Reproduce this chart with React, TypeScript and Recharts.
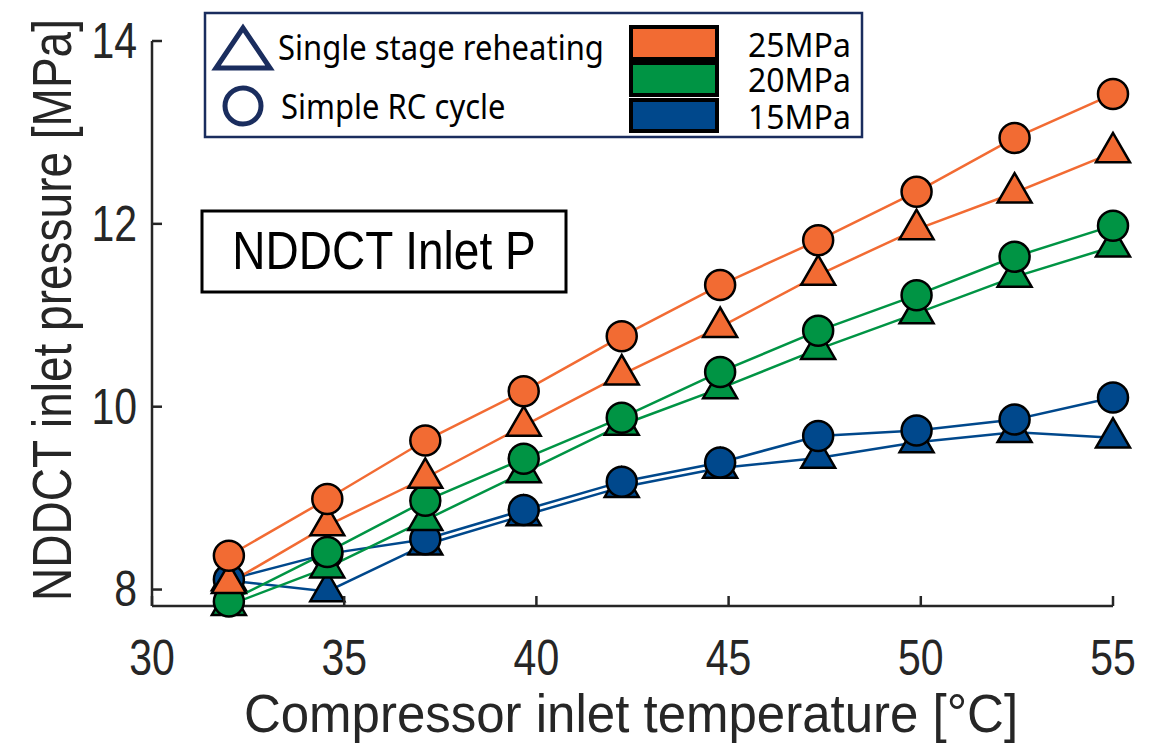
import React from "react";
import { LineChart, Line, XAxis, YAxis } from "recharts";

// compressor inlet temperature [°C]
const temps = [32, 34.56, 37.11, 39.67, 42.22, 44.78, 47.33, 49.89, 52.44, 55];
// NDDCT inlet pressure [MPa]; rc = simple RC cycle, rh = single stage reheating
const rc25 = [8.37, 8.99, 9.63, 10.17, 10.77, 11.33, 11.82, 12.35, 12.94, 13.42];
const rh25 = [8.07, 8.7, 9.22, 9.79, 10.35, 10.87, 11.44, 11.94, 12.34, 12.78];
const rc20 = [7.87, 8.41, 8.97, 9.43, 9.88, 10.38, 10.83, 11.22, 11.64, 11.98];
const rh20 = [7.83, 8.24, 8.76, 9.28, 9.8, 10.2, 10.63, 11.02, 11.42, 11.75];
const rc15 = [8.11, 8.39, 8.55, 8.87, 9.18, 9.39, 9.68, 9.74, 9.86, 10.1];
const rh15 = [8.1, 7.98, 8.49, 8.81, 9.12, 9.33, 9.44, 9.61, 9.72, 9.66];

const xTicks = [30, 35, 40, 45, 50, 55];
const yTicks = [8, 10, 12, 14];

const ORANGE = "#f26b33";
const GREEN = "#009444";
const BLUE = "#00488c";
const AXIS = "#262626";
const NAVY = "#1a2d5e";
const ARIAL = "'Liberation Sans', Arial, sans-serif";
const LEGEND_FONT = "'Noto Sans', 'Open Sans', sans-serif";

const data = temps.map((t, i) => ({
  t,
  rc25: rc25[i],
  rh25: rh25[i],
  rc20: rc20[i],
  rh20: rh20[i],
  rc15: rc15[i],
  rh15: rh15[i],
}));

function SText({ x, y, k = 1.15, rotate = 0, children, ...rest }: any) {
  return (
    <text
      transform={`translate(${x},${y}) rotate(${rotate}) scale(1,${k})`}
      x={0}
      y={0}
      dominantBaseline="central"
      {...rest}
    >
      {children}
    </text>
  );
}

const circleDot = (color: string) => (p: any) => {
  const { cx, cy, index } = p;
  if (cx == null || cy == null) return <g key={`c${index}`} />;
  return <circle key={`c${index}`} cx={cx} cy={cy} r={15} fill={color} stroke="#000" strokeWidth={2.5} />;
};

const triDot = (color: string) => (p: any) => {
  const { cx, cy, index } = p;
  if (cx == null || cy == null) return <g key={`t${index}`} />;
  const s = 34;
  const h = (s * Math.sqrt(3)) / 2;
  const pts = `${cx},${cy - (2 * h) / 3} ${cx - s / 2},${cy + h / 3} ${cx + s / 2},${cy + h / 3}`;
  return <polygon key={`t${index}`} points={pts} fill={color} stroke="#000" strokeWidth={2.5} />;
};

const XTick = (p: any) => {
  const { x, y, payload } = p;
  return (
    <g>
      <line x1={x} y1={y} x2={x} y2={y - 10} stroke={AXIS} strokeWidth={2.5} />
      <SText x={x} y={y + 52} textAnchor="middle" fontFamily={ARIAL} fontSize={41} fill={AXIS} k={1.2}>
        {payload.value}
      </SText>
    </g>
  );
};

const YTick = (p: any) => {
  const { x, y, payload } = p;
  return (
    <g>
      <line x1={x} y1={y} x2={x + 10} y2={y} stroke={AXIS} strokeWidth={2.5} />
      <SText x={x - 15} y={y} textAnchor="end" fontFamily={ARIAL} fontSize={41} fill={AXIS} k={1.2}>
        {payload.value}
      </SText>
    </g>
  );
};

function series(key: string, color: string, tri: boolean) {
  return (
    <Line
      key={key}
      dataKey={key}
      type="linear"
      stroke={color}
      strokeWidth={2.5}
      dot={tri ? triDot(color) : circleDot(color)}
      activeDot={false}
      isAnimationActive={false}
    />
  );
}

export default function App() {
  return (
    <div style={{ position: "relative", width: 1150, height: 738, background: "#fff" }}>
      <LineChart width={1150} height={730} data={data} margin={{ top: 33, right: 45, bottom: 72, left: 44 }}>
        <XAxis
          dataKey="t"
          type="number"
          domain={[30, 55]}
          ticks={xTicks}
          height={60}
          tickSize={0}
          tickMargin={0}
          tickLine={false}
          axisLine={{ stroke: AXIS, strokeWidth: 2.5 }}
          tick={XTick}
        />
        <YAxis
          type="number"
          domain={[7.82, 14]}
          ticks={yTicks}
          width={100}
          tickSize={0}
          tickMargin={0}
          tickLine={false}
          axisLine={{ stroke: AXIS, strokeWidth: 2.5 }}
          tick={YTick}
        />
        {series("rh15", BLUE, true)}
        {series("rc15", BLUE, false)}
        {series("rh20", GREEN, true)}
        {series("rc20", GREEN, false)}
        {series("rh25", ORANGE, true)}
        {series("rc25", ORANGE, false)}
      </LineChart>
      <svg width={1150} height={738} style={{ position: "absolute", left: 0, top: 0, pointerEvents: "none" }}>
        <SText x={623} y={706} textAnchor="middle" fontFamily={ARIAL} fontSize={51} fill={AXIS} k={1.05}>
          Compressor inlet temperature [°C]
        </SText>
        <SText x={44} y={302} rotate={-90} textAnchor="middle" fontFamily={ARIAL} fontSize={46} fill={AXIS} k={1.2}>
          NDDCT inlet pressure [MPa]
        </SText>

        <rect x={194} y={203} width={364} height={81} fill="#fff" stroke="#000" strokeWidth={3} />
        <SText x={376} y={243} textAnchor="middle" fontFamily={ARIAL} fontSize={46} fill="#000" k={1.15}>
          NDDCT Inlet P
        </SText>

        <rect x={197} y={5} width={657} height={124} fill="#fff" stroke={NAVY} strokeWidth={2.5} />
        <polygon points="235,20 208,60 262,60" fill="none" stroke={NAVY} strokeWidth={5} />
        <circle cx={235} cy={98} r={18} fill="none" stroke={NAVY} strokeWidth={5} />
        <SText x={270} y={39} fontFamily={LEGEND_FONT} fontSize={31} fill="#000" k={1.1}>
          Single stage reheating
        </SText>
        <SText x={273} y={98} fontFamily={LEGEND_FONT} fontSize={31} fill="#000" k={1.1}>
          Simple RC cycle
        </SText>
        <rect x={623} y={19} width={86} height={32} fill={ORANGE} stroke="#000" strokeWidth={4} />
        <rect x={623} y={55} width={86} height={32} fill={GREEN} stroke="#000" strokeWidth={4} />
        <rect x={623} y={92} width={86} height={31} fill={BLUE} stroke="#000" strokeWidth={4} />
        <SText x={740} y={36} fontFamily={LEGEND_FONT} fontSize={32} fill="#000" k={1.05}>
          25MPa
        </SText>
        <SText x={740} y={71} fontFamily={LEGEND_FONT} fontSize={32} fill="#000" k={1.05}>
          20MPa
        </SText>
        <SText x={740} y={108} fontFamily={LEGEND_FONT} fontSize={32} fill="#000" k={1.05}>
          15MPa
        </SText>
      </svg>
    </div>
  );
}
